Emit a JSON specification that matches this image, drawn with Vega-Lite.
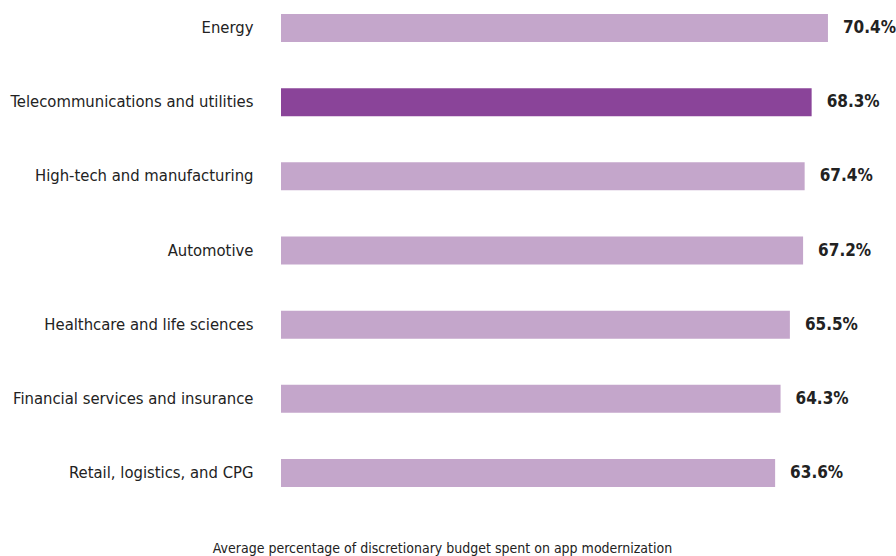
{
  "$schema": "https://vega.github.io/schema/vega-lite/v6.json",
  "autosize": {"type": "none"},
  "padding": {"left": 281, "top": 0, "right": 9, "bottom": 55},
  "width": 606,
  "height": 501,
  "background": "white",
  "config": {"view": {"stroke": null}, "font": "DejaVu Sans Condensed, Liberation Sans Narrow, sans-serif"},
  "data": {"values": [
    {"sector": "Energy", "value": 70.4, "highlight": "no"},
    {"sector": "Telecommunications and utilities", "value": 68.3, "highlight": "yes"},
    {"sector": "High-tech and manufacturing", "value": 67.4, "highlight": "no"},
    {"sector": "Automotive", "value": 67.2, "highlight": "no"},
    {"sector": "Healthcare and life sciences", "value": 65.5, "highlight": "no"},
    {"sector": "Financial services and insurance", "value": 64.3, "highlight": "no"},
    {"sector": "Retail, logistics, and CPG", "value": 63.6, "highlight": "no"}
  ]},
  "transform": [{"calculate": "format(datum.value, '.1f') + '%'", "as": "label"}],
  "encoding": {
    "y": {"field": "sector", "type": "nominal", "sort": null,
      "scale": {"paddingInner": 0.622, "paddingOuter": 0.189},
      "axis": {"title": null, "ticks": false, "domain": false, "labelPadding": 28,
        "labelFontSize": 16.5, "labelColor": "#222222", "labelFont": "DejaVu Sans Condensed, Liberation Sans Narrow, sans-serif", "labelLimit": 400}},
    "x": {"field": "value", "type": "quantitative",
      "scale": {"domain": [0, 78], "nice": false},
      "axis": {"labels": false, "ticks": false, "domain": false, "grid": false,
        "title": "Average percentage of discretionary budget spent on app modernization",
        "titleFont": "DejaVu Sans Condensed, Liberation Sans Narrow, sans-serif", "titleFontSize": 14, "titleFontWeight": "normal", "titleColor": "#222222",
        "titleX": 161, "titleY": 47, "titleBaseline": "middle", "titleAnchor": "middle", "titleAlign": "center"}}
  },
  "layer": [
    {"mark": {"type": "bar"},
     "encoding": {"color": {"field": "highlight", "type": "nominal",
       "scale": {"domain": ["no", "yes"], "range": ["#c4a6cb", "#8a4499"]}, "legend": null}}},
    {"mark": {"type": "text", "align": "left", "dx": 15, "baseline": "middle", "fontSize": 17, "fontWeight": "bold", "color": "#222222", "font": "DejaVu Sans Condensed, Liberation Sans Narrow, sans-serif"},
     "encoding": {"text": {"field": "label", "type": "nominal"}}}
  ]
}
